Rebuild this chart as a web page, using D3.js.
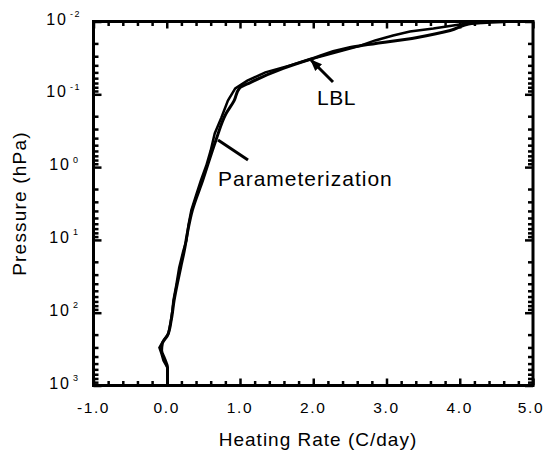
<!DOCTYPE html>
<html><head><meta charset="utf-8">
<script src="https://cdn.jsdelivr.net/npm/d3@7"></script>
<style>body{margin:0;background:#fff}</style>
</head><body>
<svg id="c" width="545" height="454" xmlns="http://www.w3.org/2000/svg"></svg>
<script>
// Data (heating rate in C/day, pressure in hPa)
const paramX = [0.01, 0.01, -0.03, -0.07, -0.06, 0.01, 0.06, 0.10, 0.19, 0.24, 0.28, 0.35, 0.49, 0.67, 0.81, 0.92, 0.99, 1.14, 1.59, 1.96, 2.50, 3.42, 3.87, 4.18, 4.60];
const paramP = [1000, 566, 426, 330, 265, 206, 128, 68, 24, 14, 8.2, 3.9, 1.53, 0.43, 0.184, 0.122, 0.083, 0.069, 0.044, 0.033, 0.0228, 0.0166, 0.0133, 0.0106, 0.0101];
const lblX = [0.01, 0.01, -0.045, -0.073, -0.10, -0.045, 0.023, 0.05, 0.077, 0.091, 0.13, 0.17, 0.227, 0.268, 0.296, 0.336, 0.40, 0.465, 0.54, 0.60, 0.655, 0.745, 0.835, 0.935, 1.10, 1.346, 1.686, 1.96, 2.30, 2.614, 2.846, 3.09, 3.32, 3.64, 4.00, 4.40];
const lblP = [1000, 566, 454, 363, 301, 241, 193, 141, 93, 68, 42, 24, 14, 10.2, 6.3, 3.9, 2.45, 1.53, 0.95, 0.59, 0.345, 0.21, 0.122, 0.083, 0.065, 0.050, 0.040, 0.033, 0.0267, 0.022, 0.0182, 0.0156, 0.0137, 0.0125, 0.011, 0.0102];
const xTickVals = [-1, 0, 1, 2, 3, 4, 5];
const xTickLabels = ["-1.0", "0.0", "1.0", "2.0", "3.0", "4.0", "5.0"];
const yTickExps = [-2, -1, 0, 1, 2, 3];
const xTitle = "Heating Rate (C/day)";
const yTitle = "Pressure (hPa)";

const svg = d3.select("#c");
const L = 93.5, R = 533, T = 21.5, B = 385.5;
const x = d3.scaleLinear().domain([-1, 5]).range([L, R]);
const y = d3.scaleLog().domain([0.01, 1000]).range([T, B]);
const font = "'Liberation Sans', Arial, Helvetica, sans-serif";

// minor tick values
const xMinor = d3.range(-1, 5.0001, 0.2).map(v => +v.toFixed(1)).filter(v => !xTickVals.includes(v));
const yMajor = yTickExps.map(e => Math.pow(10, e));
const yMinor = [];
for (let k = -2; k < 3; k++) for (let m = 2; m <= 9; m++) yMinor.push(m * Math.pow(10, k));

function axisGroup(gen, tx, ty) {
  const g = svg.append("g").attr("transform", `translate(${tx},${ty})`).call(gen);
  g.select(".domain").remove();
  g.selectAll("text").remove();
  g.selectAll("line").attr("stroke", "#000").attr("stroke-width", 2.5);
  return g;
}
axisGroup(d3.axisBottom(x).tickValues(xMinor).tickSize(-4.5).tickFormat(""), 0, B);
axisGroup(d3.axisBottom(x).tickValues(xTickVals).tickSize(-7).tickFormat(""), 0, B);
axisGroup(d3.axisTop(x).tickValues(xMinor).tickSize(-4.5).tickFormat(""), 0, T);
axisGroup(d3.axisTop(x).tickValues(xTickVals).tickSize(-7).tickFormat(""), 0, T);
axisGroup(d3.axisLeft(y).tickValues(yMinor).tickSize(-5).tickFormat(""), L, 0);
axisGroup(d3.axisLeft(y).tickValues(yMajor).tickSize(-8).tickFormat(""), L, 0);
axisGroup(d3.axisRight(y).tickValues(yMinor).tickSize(-5).tickFormat(""), R, 0);
axisGroup(d3.axisRight(y).tickValues(yMajor).tickSize(-8).tickFormat(""), R, 0);

// frame
svg.append("rect").attr("x", L).attr("y", T).attr("width", R - L).attr("height", B - T)
  .attr("fill", "none").attr("stroke", "#000").attr("stroke-width", 3);

// x tick labels
svg.append("g").selectAll("text").data(xTickVals).join("text")
  .attr("x", (d, i) => x(d) - (i === xTickVals.length - 1 ? 2 : 0)).attr("y", 413)
  .attr("text-anchor", "middle").attr("font-family", font).attr("font-size", 15.5)
  .attr("letter-spacing", 1.6)
  .text((d, i) => xTickLabels[i]);

// y tick labels: 10 with superscript exponent
const yl = svg.append("g").attr("font-family", font);
yTickExps.forEach(e => {
  const py = y(Math.pow(10, e));
  const endX = e < 0 ? 68 : 71;
  yl.append("text").attr("x", endX).attr("y", py + 3).attr("text-anchor", "end")
    .attr("font-size", 16).attr("letter-spacing", 2).text("10");
  yl.append("text").attr("x", endX + 2).attr("y", py - 4.5).attr("text-anchor", "start")
    .attr("font-size", 9).attr("letter-spacing", 1.5).text(e < 0 ? "-" + Math.abs(e) : String(e));
});

// axis titles
svg.append("text").attr("x", 318).attr("y", 446).attr("text-anchor", "middle")
  .attr("font-family", font).attr("font-size", 19).attr("letter-spacing", 1).text(xTitle);
svg.append("text").attr("transform", `translate(26,${(T + B) / 2}) rotate(-90)`)
  .attr("text-anchor", "middle").attr("font-family", font).attr("font-size", 19)
  .attr("letter-spacing", 1.2).text(yTitle);

// curves
const clip = svg.append("clipPath").attr("id", "clp").append("rect")
  .attr("x", L).attr("y", T).attr("width", R - L).attr("height", B - T);
const paramData = paramX.map((v, i) => [v, paramP[i]]);
const lblData = lblX.map((v, i) => [v, lblP[i]]);
const lineLin = d3.line().x(d => x(d[0])).y(d => y(d[1]));
const lineSmooth = d3.line().x(d => x(d[0])).y(d => y(d[1])).curve(d3.curveMonotoneY);
svg.append("path").attr("d", lineLin(lblData)).attr("fill", "none").attr("stroke", "#000")
  .attr("stroke-width", 2.5).attr("clip-path", "url(#clp)");
svg.append("path").attr("d", lineSmooth(paramData)).attr("fill", "none").attr("stroke", "#000")
  .attr("stroke-width", 3).attr("clip-path", "url(#clp)");

// annotations
svg.append("defs").append("marker").attr("id", "ah").attr("viewBox", "0 0 10 10")
  .attr("refX", 9).attr("refY", 5).attr("markerWidth", 4).attr("markerHeight", 4)
  .attr("orient", "auto").append("path").attr("d", "M0,1 L10,5 L0,9 Z").attr("fill", "#000");
svg.append("line").attr("x1", 333).attr("y1", 82).attr("x2", 311).attr("y2", 60)
  .attr("stroke", "#000").attr("stroke-width", 3).attr("marker-end", "url(#ah)");
svg.append("line").attr("x1", 248).attr("y1", 160).attr("x2", 218).attr("y2", 140)
  .attr("stroke", "#000").attr("stroke-width", 3);
svg.append("text").attr("x", 317).attr("y", 105).attr("font-family", font)
  .attr("font-size", 21).attr("letter-spacing", 0.5).text("LBL");
svg.append("text").attr("x", 218).attr("y", 186).attr("font-family", font)
  .attr("font-size", 21).attr("letter-spacing", 1).text("Parameterization");
</script>
</body></html>
